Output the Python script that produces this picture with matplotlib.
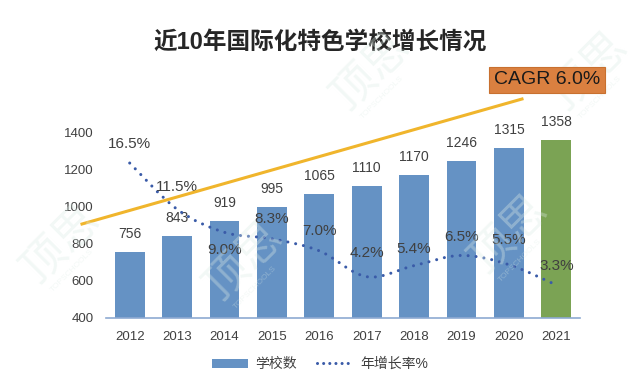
import numpy as np
import matplotlib
matplotlib.use("Agg")
import matplotlib.pyplot as plt
from matplotlib.path import Path
from matplotlib.patches import PathPatch, Patch
from matplotlib.lines import Line2D

plt.rcParams['font.family'] = ['Liberation Sans', 'Noto Sans CJK SC', 'DejaVu Sans']

# data
years = ['2012', '2013', '2014', '2015', '2016', '2017', '2018', '2019', '2020', '2021']
schools = [756, 843, 919, 995, 1065, 1110, 1170, 1246, 1315, 1358]
growth = [16.5, 11.5, 9.0, 8.3, 7.0, 4.2, 5.4, 6.5, 5.5, 3.3]
growth_labels = ['16.5%', '11.5%', '9.0%', '8.3%', '7.0%', '4.2%', '5.4%', '6.5%', '5.5%', '3.3%']
title = '近10年国际化特色学校增长情况'
cagr_text = 'CAGR 6.0%'

blue = '#6592c4'
green = '#7ba354'
dot_blue = '#3a5ba8'
gold = '#f0b52c'
txt = '#404040'

fig = plt.figure(figsize=(6.4, 3.82), dpi=100)
ax = fig.add_axes([106 / 640, 1 - 318 / 382, 474 / 640, 186 / 382])

x = np.arange(len(years))
colors = [blue] * (len(years) - 1) + [green]
bars = ax.bar(x, schools, width=0.63, color=colors, zorder=2)
ax.set_xlim(-0.5, 9.5)
ax.set_ylim(400, 1400)
ax.set_yticks([400, 600, 800, 1000, 1200, 1400])
ax.set_xticks(x)
ax.set_xticklabels(years)
ax.tick_params(length=0, labelsize=9.5, labelcolor=txt)
ax.tick_params(axis='y', pad=9)
ax.tick_params(axis='x', pad=9)
for s in ['top', 'right', 'left']:
    ax.spines[s].set_visible(False)
ax.spines['bottom'].set_color('#8eaad2')
ax.spines['bottom'].set_linewidth(1.2)

for xi, v in zip(x, schools):
    ax.annotate(str(v), (xi, v), xytext=(0, 13), textcoords='offset points',
                ha='center', va='center', fontsize=10, color=txt, zorder=5)

# growth rate on a hidden second axis, smoothed like the source chart
ax2 = ax.twinx()
ax2.set_ylim(-0.27, 19.86)
ax2.axis('off')
pts = np.column_stack([x, growth]).astype(float)
verts = [pts[0]]
codes = [Path.MOVETO]
n = len(pts)
for i in range(n - 1):
    p0 = pts[max(i - 1, 0)]
    p1 = pts[i]
    p2 = pts[i + 1]
    p3 = pts[min(i + 2, n - 1)]
    c1 = p1 + (p2 - p0) / 6
    c2 = p2 - (p3 - p1) / 6
    verts += [c1, c2, p2]
    codes += [Path.CURVE4] * 3
curve = PathPatch(Path(verts, codes), fill=False, edgecolor=dot_blue, linewidth=2.2,
                  linestyle=(0, (0.01, 2.6)), capstyle='round', zorder=4)
ax2.add_patch(curve)

label_off = [14, 16, -13, 14, 14, 17, 12, 13, 18, 14]
for xi, g, lab, off in zip(x, growth, growth_labels, label_off):
    ax2.annotate(lab, (xi, g), xytext=(0, off), textcoords='offset points',
                 ha='center', va='center', fontsize=11, color=txt, zorder=6)

# faint watermarks (drawn under the CAGR box)
for wx, wy in [(62, 245), (372, 72), (590, 72), (245, 262), (510, 235)]:
    fig.text(wx / 640, 1 - wy / 382, '顶思', rotation=45, ha='center', va='center',
             fontsize=32, color='#dcebe5', alpha=0.35, zorder=5)
    fig.text((wx + 10) / 640, 1 - (wy + 26) / 382, 'TOPSCHOOLS', rotation=45, ha='center',
             va='center', fontsize=6, color='#dcebe5', alpha=0.35, zorder=5)

# CAGR trend line and box
fig.add_artist(Line2D([82 / 640, 522 / 640], [1 - 224 / 382, 1 - 99 / 382],
                      color=gold, linewidth=2.2, zorder=3))
fig.text(547 / 640, 1 - 80 / 382, cagr_text, ha='center', va='center', fontsize=14,
         color='#1a1a1a', zorder=7,
         bbox=dict(boxstyle='square,pad=0.25', facecolor='#da8040', edgecolor='#c8702f', linewidth=0.8))

fig.text(0.5, 1 - 42 / 382, title, ha='center', va='center', fontsize=17,
         fontweight='bold', color='#262626')

handles = [Patch(facecolor=blue), Line2D([0], [0], color=dot_blue, linewidth=2.2,
                                         linestyle=(0, (0.01, 2.0)), dash_capstyle='round')]
fig.legend(handles, ['学校数', '年增长率%'], loc='center', bbox_to_anchor=(0.5, 1 - 364 / 382),
           ncol=2, frameon=False, fontsize=10, handlelength=2.6, handleheight=0.6,
           columnspacing=1.5, handletextpad=0.5, labelcolor=txt)

fig.savefig('out.png', dpi=100)
